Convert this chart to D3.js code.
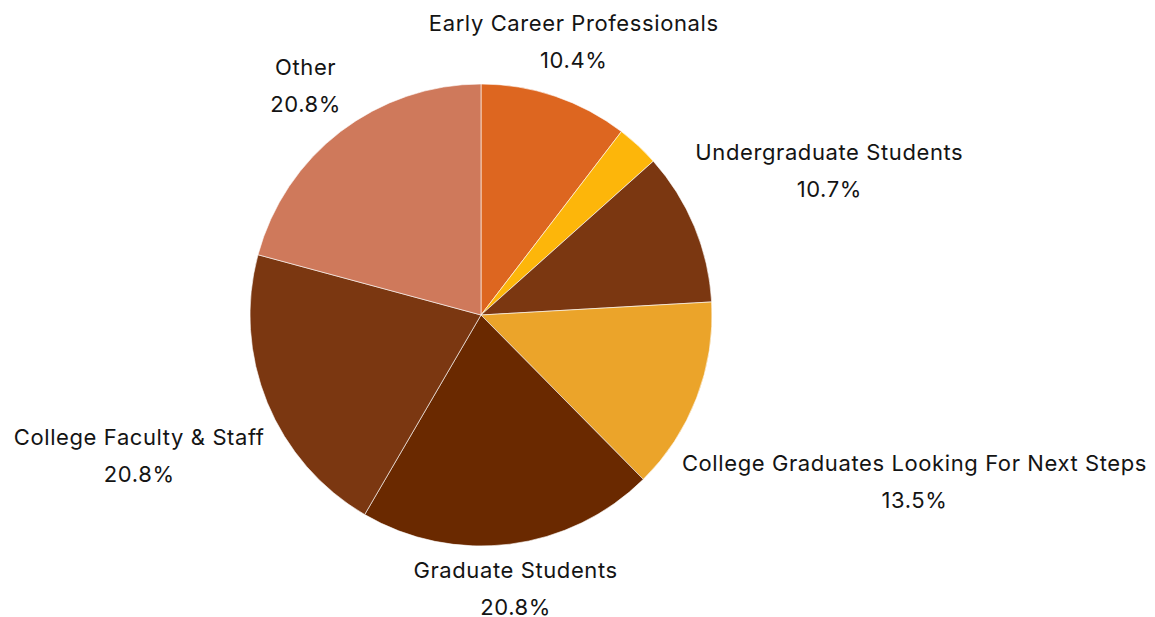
<!DOCTYPE html>
<html>
<head>
<meta charset="utf-8">
<script src="https://cdn.jsdelivr.net/npm/d3@7"></script>
<style>
  body { margin: 0; background: #fff; }
  text { font-family: "Inter", "Noto Sans", sans-serif; fill: #141414; }
</style>
</head>
<body>
<div id="chart"></div>
<script>
// slices, clockwise from 12 o'clock
const categories = ["Early Career Professionals", "", "Undergraduate Students",
    "College Graduates Looking For Next Steps", "Graduate Students",
    "College Faculty & Staff", "Other"];
const values = [10.4, 3.0, 10.7, 13.5, 20.8, 20.8, 20.8];
const colors = ["#dd6620", "#fdb60a", "#7b3711", "#eba42a", "#6a2900", "#7b3711", "#cf795b"];

const width = 1155, height = 617;
const cx = 481, cy = 315, radius = 231;

const svg = d3.select("#chart").append("svg")
    .attr("width", width)
    .attr("height", height);

const g = svg.append("g").attr("transform", `translate(${cx},${cy})`);

const data = categories.map((c, i) => ({ name: c, value: values[i], color: colors[i] }));

const pie = d3.pie().value(d => d.value).sort(null);
const arc = d3.arc().innerRadius(0).outerRadius(radius);
const arcs = pie(data);

g.selectAll(".slice")
    .data(arcs)
    .enter().append("path")
    .attr("class", "slice")
    .attr("d", arc)
    .attr("fill", d => d.data.color)
    .attr("stroke", "#fff")
    .attr("stroke-width", 0.6);

// labels pushed out along the mid angle until the text box clears the pie
const pad = 11;
const lineGap = 37;
const total = d3.sum(values);

arcs.filter(d => d.data.name !== "").forEach(d => {
    const lbl = g.append("text")
        .attr("text-anchor", "middle")
        .style("font-size", "22px")
        .style("letter-spacing", "0.6px");
    lbl.append("tspan").attr("x", 0).attr("y", 0).text(d.data.name);
    lbl.append("tspan").attr("x", 0).attr("y", lineGap)
        .text((d.data.value / total * 100).toFixed(1) + "%");

    const bb = lbl.node().getBBox();
    const a = (d.startAngle + d.endAngle) / 2;
    const dx = Math.sin(a), dy = -Math.cos(a);
    // offset of bbox centre from text origin
    const ox = bb.x + bb.width / 2, oy = bb.y + bb.height / 2;

    let t = radius;
    for (; t < 800; t += 0.5) {
        const bx = t * dx, by = t * dy;
        const x0 = bx - bb.width / 2, x1 = bx + bb.width / 2;
        const y0 = by - bb.height / 2, y1 = by + bb.height / 2;
        const nx = Math.max(x0, Math.min(0, x1));
        const ny = Math.max(y0, Math.min(0, y1));
        if (Math.hypot(nx, ny) >= radius + pad) break;
    }
    lbl.attr("transform", `translate(${t * dx - ox},${t * dy - oy})`);
});
</script>
</body>
</html>
